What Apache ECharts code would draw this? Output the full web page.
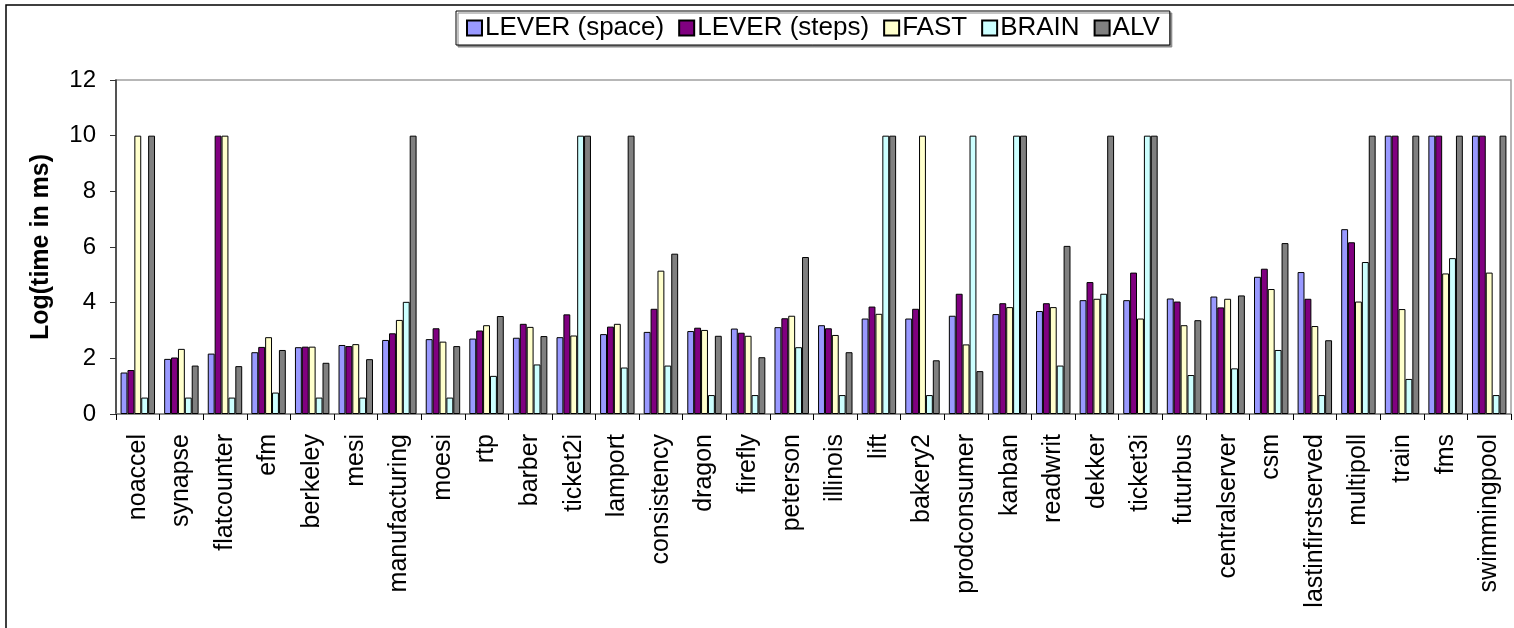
<!DOCTYPE html>
<html>
<head>
<meta charset="utf-8">
<script src="https://cdn.jsdelivr.net/npm/echarts@6/dist/echarts.min.js"></script>
<style>
  html, body { margin: 0; padding: 0; background: #fff; }
  #chart { width: 1514px; height: 628px; }
</style>
</head>
<body>
<div id="chart"></div>
<script>
var models = ['noaccel', 'synapse', 'flatcounter', 'efm', 'berkeley', 'mesi', 'manufacturing', 'moesi',
  'rtp', 'barber', 'ticket2i', 'lamport', 'consistency', 'dragon', 'firefly', 'peterson', 'illinois',
  'lift', 'bakery2', 'prodconsumer', 'kanban', 'readwrit', 'dekker', 'ticket3i', 'futurbus',
  'centralserver', 'csm', 'lastinfirstserved', 'multipoll', 'train', 'fms', 'swimmingpool'];

var leverSpace = [1.49, 1.98, 2.17, 2.22, 2.40, 2.48, 2.66, 2.69, 2.71, 2.74, 2.76, 2.87, 2.95, 2.98, 3.07, 3.12,
  3.19, 3.43, 3.43, 3.53, 3.59, 3.70, 4.09, 4.09, 4.15, 4.22, 4.93, 5.10, 6.64, 10, 10, 10];
var leverSteps = [1.58, 2.03, 10, 2.41, 2.42, 2.44, 2.90, 3.08, 3.00, 3.24, 3.58, 3.14, 3.78, 3.10, 2.92, 3.44,
  3.08, 3.86, 3.78, 4.32, 3.98, 3.98, 4.74, 5.08, 4.04, 3.83, 5.22, 4.14, 6.17, 10, 10, 10];
var fast = [10, 2.34, 10, 2.76, 2.42, 2.51, 3.38, 2.60, 3.19, 3.13, 2.82, 3.24, 5.15, 3.02, 2.81, 3.53,
  2.84, 3.60, 10, 2.50, 3.84, 3.84, 4.14, 3.43, 3.19, 4.14, 4.49, 3.16, 4.04, 3.77, 5.05, 5.08];
var brain = [0.59, 0.59, 0.59, 0.77, 0.59, 0.59, 4.03, 0.59, 1.37, 1.78, 10, 1.67, 1.74, 0.68, 0.68, 2.40,
  0.68, 10, 0.68, 10, 10, 1.74, 4.32, 10, 1.40, 1.64, 2.30, 0.68, 5.46, 1.26, 5.60, 0.68];
var alv = [10, 1.74, 1.72, 2.30, 1.84, 1.97, 10, 2.44, 3.52, 2.80, 10, 10, 5.76, 2.81, 2.04, 5.64,
  2.22, 10, 1.93, 1.54, 10, 6.04, 10, 10, 3.37, 4.26, 6.14, 2.65, 10, 10, 10, 10];

var seriesNames = ['LEVER (space)', 'LEVER (steps)', 'FAST', 'BRAIN', 'ALV'];
var seriesData = [leverSpace, leverSteps, fast, brain, alv];
var colors = ['#9999ff', '#800080', '#ffffcc', '#ccffff', '#808080'];

var font = 'Liberation Sans, Arial, sans-serif';

var chart = echarts.init(document.getElementById('chart'));
chart.setOption({
  animation: false,
  color: colors,
  graphic: [{
    type: 'rect',
    shape: { x: 6, y: 5, width: 2000, height: 2000 },
    style: { fill: 'none', stroke: '#000', lineWidth: 1.5 },
    silent: true
  }],
  legend: {
    data: seriesNames,
    left: 456,
    top: 11,
    icon: 'rect',
    itemWidth: 15,
    itemHeight: 15,
    itemGap: 14,
    padding: [4, 10],
    borderColor: '#000',
    borderWidth: 1,
    backgroundColor: '#fff',
    shadowColor: '#888',
    shadowOffsetX: 2,
    shadowOffsetY: 2,
    shadowBlur: 0,
    textStyle: { fontFamily: font, fontSize: 26, color: '#000', lineHeight: 26, padding: [0, 0, 0, -2] }
  },
  grid: {
    left: 116,
    right: 3,
    top: 80,
    bottom: 214,
    show: true,
    borderColor: '#a0a0a0',
    borderWidth: 1.5
  },
  xAxis: {
    type: 'category',
    data: models,
    axisLine: { lineStyle: { color: '#808080', width: 1.5 } },
    axisTick: { show: true, length: 6, alignWithLabel: false, lineStyle: { color: '#000' } },
    axisLabel: {
      interval: 0,
      rotate: 90,
      margin: 20,
      fontFamily: font,
      fontSize: 25,
      color: '#000'
    }
  },
  yAxis: {
    type: 'value',
    min: 0,
    max: 12,
    interval: 2,
    name: 'Log(time in ms)',
    nameLocation: 'middle',
    nameGap: 62,
    nameRotate: 90,
    nameTextStyle: { fontFamily: font, fontSize: 25, fontWeight: 'bold', color: '#000' },
    splitLine: { show: false },
    axisLine: { show: true, lineStyle: { color: '#333', width: 1.5 } },
    axisTick: { show: true, length: 6, lineStyle: { color: '#333' } },
    axisLabel: { margin: 20, fontFamily: font, fontSize: 24, color: '#000' }
  },
  series: seriesNames.map(function (name, i) {
    return {
      name: name,
      type: 'bar',
      data: seriesData[i],
      barGap: '0%',
      barCategoryGap: '21%',
      itemStyle: { color: colors[i], borderColor: '#000', borderWidth: 1 }
    };
  })
});
</script>
</body>
</html>
